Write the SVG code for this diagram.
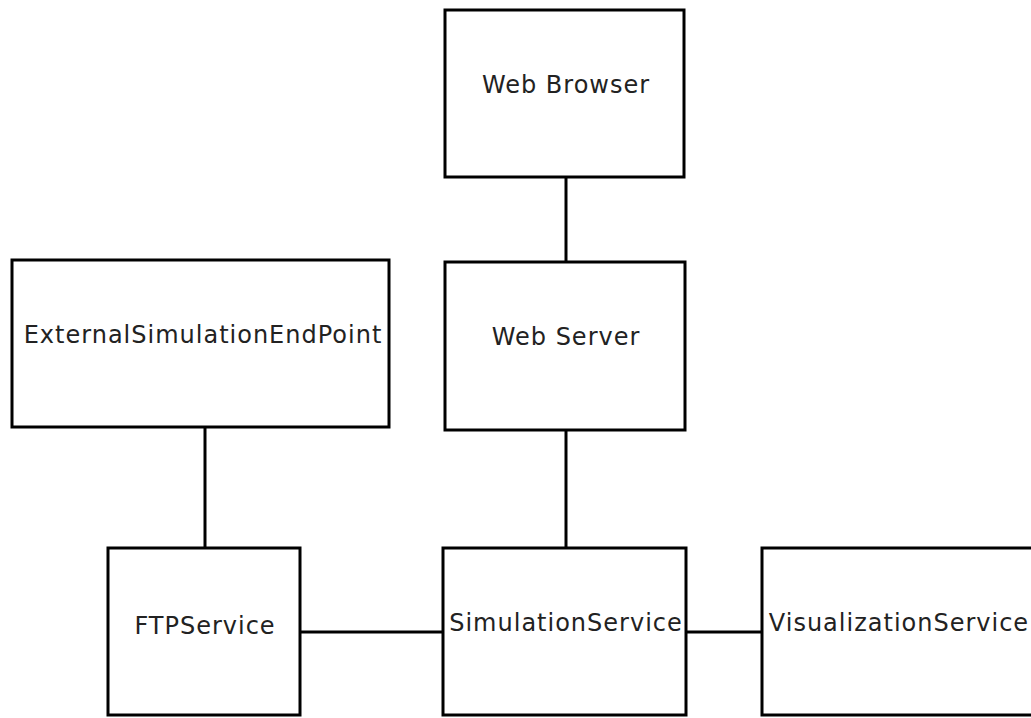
<svg xmlns="http://www.w3.org/2000/svg" width="1031" height="718" viewBox="0 0 1031 718">
<style>
.box{fill:#fff;stroke:#000;stroke-width:3}
.lbl{font-family:"DejaVu Sans",sans-serif;font-size:24px;letter-spacing:1px;fill:#222;text-anchor:middle;dominant-baseline:central}
.conn line{stroke:#000;stroke-width:3}
</style>
<rect width="1031" height="718" fill="#fff"/>
<g class="conn" id="connectors">
<line x1="566" y1="177" x2="566" y2="262"/>
<line x1="566" y1="430" x2="566" y2="548"/>
<line x1="205" y1="427" x2="205" y2="548"/>
<line x1="300" y1="632" x2="443" y2="632"/>
<line x1="686" y1="632" x2="762" y2="632"/>
</g>
<g id="web-browser"><rect class="box" x="445" y="10" width="239" height="167"/><text class="lbl" x="566" y="85">Web Browser</text></g>
<g id="web-server"><rect class="box" x="445" y="262" width="240" height="168"/><text class="lbl" x="566" y="337">Web Server</text></g>
<g id="external"><rect class="box" x="12" y="260" width="377" height="167"/><text class="lbl" x="203" y="335">ExternalSimulationEndPoint</text></g>
<g id="ftp"><rect class="box" x="108" y="548" width="192" height="167"/><text class="lbl" x="205" y="626">FTPService</text></g>
<g id="simulation"><rect class="box" x="443" y="548" width="243" height="167"/><text class="lbl" x="566" y="623">SimulationService</text></g>
<g id="visualization"><rect class="box" x="762" y="548" width="290" height="167"/><text class="lbl" x="899" y="623">VisualizationService</text></g>
</svg>
